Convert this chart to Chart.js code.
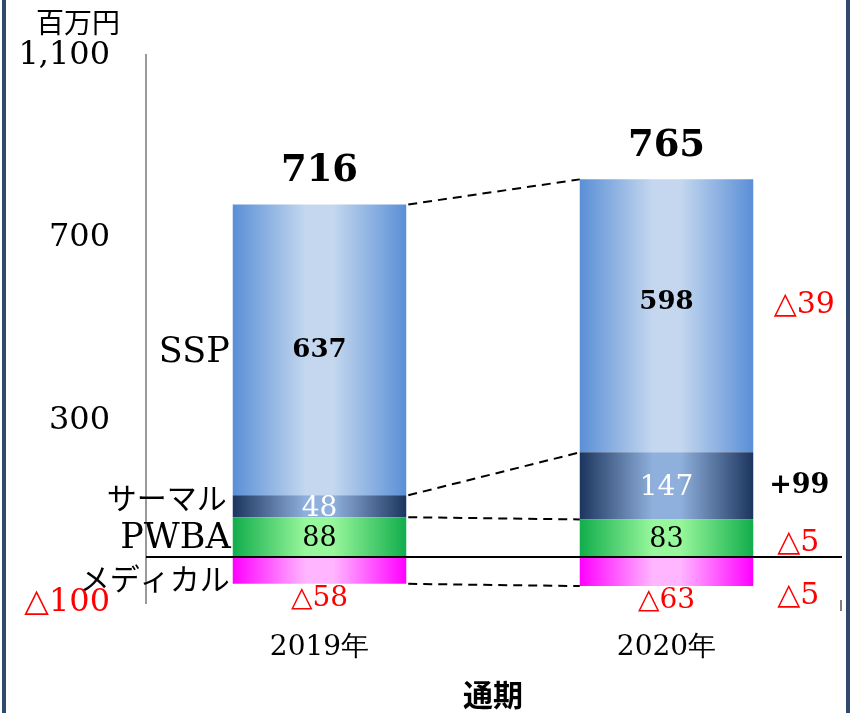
<!DOCTYPE html>
<html lang="ja">
<head>
<meta charset="utf-8">
<title>通期 セグメント別</title>
<script src="https://cdn.jsdelivr.net/npm/chart.js@4.4.1/dist/chart.umd.min.js"></script>
<style>
  html, body { margin: 0; padding: 0; background: #fff; }
  #wrap { width: 852px; height: 713px; position: relative; }
</style>
</head>
<body>
<div id="wrap"><canvas id="myChart" width="852" height="713"></canvas></div>

<script>
// --- data ---
var categories = ['2019年', '2020年'];
var seriesNames = ['SSP', 'サーマル', 'PWBA', 'メディカル'];
var ssp = [637, 598];
var thermal = [48, 147];
var pwba = [88, 83];
var medical = [-58, -63];
var totals = [716, 765];
var changes = [-39, 99, -5, -5];   // SSP, サーマル, PWBA, メディカル
var yTicks = [-100, 300, 700, 1100];

var SERIF = '"DejaVu Serif", "Liberation Serif", serif';
var JP = '"Noto Sans CJK JP", "Noto Sans", sans-serif';
var RED = '#ff0000';

function tri(v) {
  return v < 0 ? '\u25B3' + Math.abs(v) : String(v);
}

// horizontal gradient across each bar
function barGradient(edge, mid) {
  return function (c) {
    var chart = c.chart;
    if (!chart.chartArea) return edge;
    var x = chart.scales.x;
    var cx = x.getPixelForValue(c.dataIndex);
    var half = (x.width / categories.length) * 0.5 / 2;
    var g = chart.ctx.createLinearGradient(cx - half, 0, cx + half, 0);
    g.addColorStop(0, edge);
    g.addColorStop(0.42, mid);
    g.addColorStop(0.58, mid);
    g.addColorStop(1, edge);
    return g;
  };
}

var extras = {
  id: 'extras',
  afterDatasetsDraw: function (chart) {
    var ctx = chart.ctx;
    var area = chart.chartArea;
    var y = chart.scales.y;
    var mP = chart.getDatasetMeta(0).data;  // PWBA
    var mT = chart.getDatasetMeta(1).data;  // サーマル
    var mS = chart.getDatasetMeta(2).data;  // SSP
    var mM = chart.getDatasetMeta(3).data;  // メディカル

    // zero line
    ctx.save();
    ctx.strokeStyle = '#000';
    ctx.lineWidth = 2;
    ctx.beginPath();
    ctx.moveTo(area.left, Math.round(y.getPixelForValue(0)));
    ctx.lineTo(area.right + 2, Math.round(y.getPixelForValue(0)));
    ctx.stroke();

    // little mark at the right end of the plot
    ctx.strokeStyle = '#555';
    ctx.lineWidth = 1.5;
    ctx.beginPath();
    ctx.moveTo(area.right + 1, area.bottom - 3);
    ctx.lineTo(area.right + 1, area.bottom + 8);
    ctx.stroke();

    // dashed connectors between bars
    function right(b) { return b.x + b.width / 2; }
    function left(b) { return b.x - b.width / 2; }
    ctx.strokeStyle = '#000';
    ctx.setLineDash([9, 6]);
    ctx.lineWidth = 2;
    var pairs = [
      [mS[0].y, mS[1].y],
      [mT[0].y, mT[1].y],
      [mP[0].y, mP[1].y],
      [mM[0].y, mM[1].y]
    ];
    pairs.forEach(function (p) {
      ctx.beginPath();
      ctx.moveTo(right(mS[0]) + 2, p[0]);
      ctx.lineTo(left(mS[1]), p[1]);
      ctx.stroke();
    });
    ctx.setLineDash([]);

    ctx.textAlign = 'center';
    ctx.textBaseline = 'middle';

    var sspLabelY = [];
    var medLabelY = [];
    for (var i = 0; i < categories.length; i++) {
      var cx = mS[i].x;
      // SSP value
      var sy = (mS[i].y + mS[i].base) / 2 - (i === 1 ? 14 : 0);
      sspLabelY.push(sy);
      ctx.fillStyle = '#000';
      ctx.font = 'bold 26px ' + SERIF;
      ctx.fillText(ssp[i], cx, sy);
      // サーマル value
      ctx.fillStyle = '#fff';
      ctx.font = '28px ' + SERIF;
      ctx.fillText(thermal[i], cx, (mT[i].y + mT[i].base) / 2 + 2);
      // PWBA value
      ctx.fillStyle = '#000';
      ctx.font = '27px ' + SERIF;
      ctx.fillText(pwba[i], cx, (mP[i].y + mP[i].base) / 2 + 2);
      // メディカル value under the bar
      var my = mM[i].y + 15;
      medLabelY.push(my);
      ctx.fillStyle = RED;
      ctx.font = '28px ' + SERIF;
      ctx.fillText(tri(medical[i]), cx, my);
      // totals
      ctx.fillStyle = '#000';
      ctx.font = 'bold 37px ' + SERIF;
      ctx.fillText(totals[i], cx, mS[i].y - 33);
    }

    // series names left of the first bar
    var lx = left(mS[0]) - 3;
    ctx.textAlign = 'right';
    ctx.fillStyle = '#000';
    ctx.font = '35px ' + SERIF;
    ctx.fillText(seriesNames[0], lx, (mS[0].y + mS[0].base) / 2 + 3);
    ctx.font = '30px ' + JP;
    ctx.fillText(seriesNames[1], lx - 3, (mT[0].y + mT[0].base) / 2 - 9);
    ctx.font = '35px ' + SERIF;
    ctx.fillText(seriesNames[2], lx + 1, (mP[0].y + mP[0].base) / 2 + 2);
    ctx.font = '30px ' + JP;
    ctx.fillText(seriesNames[3], lx, (mM[0].y + mM[0].base) / 2 + 8);

    // changes right of the second bar
    var rx = right(mS[1]) + 51;
    var cy = [sspLabelY[1] + 3, (mT[1].y + mT[1].base) / 2,
              (mP[1].y + mP[1].base) / 2 + 5, medLabelY[1] - 5];
    ctx.textAlign = 'center';
    for (var k = 0; k < changes.length; k++) {
      var v = changes[k];
      if (v < 0) {
        ctx.fillStyle = RED;
        ctx.font = '30px ' + SERIF;
        ctx.fillText(tri(v), v < -9 ? rx : rx - 6, cy[k]);
      } else {
        ctx.fillStyle = '#000';
        ctx.font = 'bold 27px ' + SERIF;
        ctx.fillText('+' + v, rx - 5, cy[k]);
      }
    }

    // unit
    ctx.textAlign = 'left';
    ctx.fillStyle = '#000';
    ctx.font = '28px ' + JP;
    ctx.fillText('百万円', 36, 22);

    // slide frame edges
    ctx.fillStyle = '#2e4a6e';
    ctx.fillRect(2, 0, 4, chart.height);
    ctx.fillRect(846, 0, 4, chart.height);
    ctx.restore();
  }
};

var ctx = document.getElementById('myChart');
var myChart = new Chart(ctx, {
  type: 'bar',
  data: {
    labels: categories,
    datasets: [
      { label: seriesNames[2], data: pwba, backgroundColor: barGradient('#12ad4c', '#97f79b') },
      { label: seriesNames[1], data: thermal, backgroundColor: barGradient('#1c355e', '#8fb0dc') },
      { label: seriesNames[0], data: ssp, backgroundColor: barGradient('#5a8fd6', '#c4d7ef') },
      { label: seriesNames[3], data: medical, backgroundColor: barGradient('#ff00ff', '#ffb6ff') }
    ]
  },
  options: {
    responsive: false,
    animation: false,
    layout: { padding: { top: 54, right: 12, left: 0, bottom: 0 } },
    datasets: { bar: { categoryPercentage: 1, barPercentage: 0.5, borderWidth: 0 } },
    plugins: { legend: { display: false }, tooltip: { enabled: false } },
    scales: {
      x: {
        stacked: true,
        grid: { display: false },
        border: { display: false },
        ticks: { color: '#000', font: { family: SERIF, size: 28 }, padding: 20 },
        title: { display: true, text: '通期', color: '#000',
                 font: { family: JP, size: 30, weight: 'bold' }, padding: { top: 0, bottom: 0 } },
        afterFit: function (s) { s.height = 110; }
      },
      y: {
        stacked: true,
        min: -100,
        max: 1100,
        afterBuildTicks: function (s) { s.ticks = yTicks.map(function (v) { return { value: v }; }); },
        grid: { display: false, drawTicks: false },
        border: { display: true, color: '#9a9a9a', width: 2 },
        ticks: {
          padding: 36,
          font: { family: SERIF, size: 32 },
          color: function (c) { return c.tick && c.tick.value < 0 ? RED : '#000'; },
          callback: function (v) { return v < 0 ? tri(v) : v.toLocaleString('en-US'); }
        },
        afterFit: function (s) { s.width = 146; }
      }
    }
  },
  plugins: [extras]
});
</script>
</body>
</html>
